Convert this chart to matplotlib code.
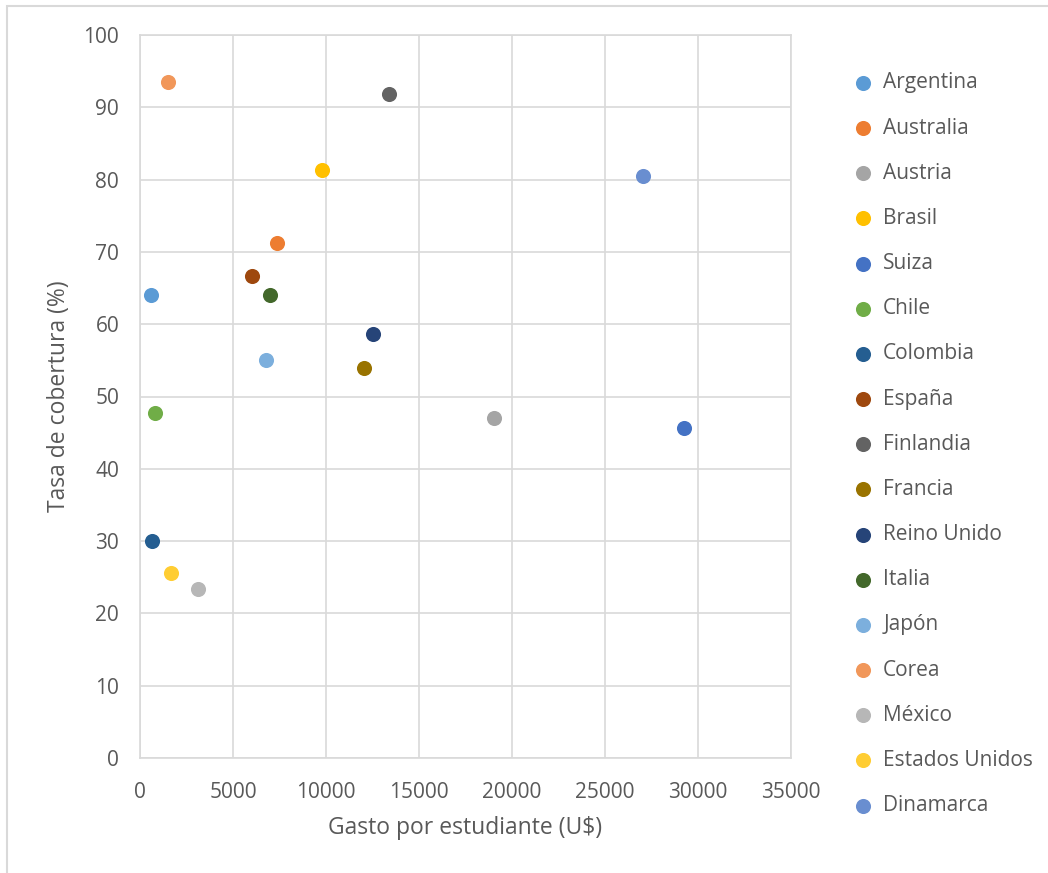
import matplotlib
matplotlib.use("Agg")
import matplotlib.pyplot as plt
from matplotlib.patches import Rectangle


# ── Data ──────────────────────────────────────────────────────────────────────

countries = ["Argentina", "Australia", "Austria", "Brasil", "Suiza", "Chile",
             "Colombia", "España", "Finlandia", "Francia", "Reino Unido",
             "Italia", "Japón", "Corea", "México", "Estados Unidos", "Dinamarca"]

gasto = [590, 7370, 19030, 9790, 29250, 810,
         650, 6020, 13390, 12040, 12530,
         6990, 6770, 1500, 3120, 1670, 27040]

cobertura = [64.0, 71.2, 47.0, 81.3, 45.7, 47.7,
             30.0, 66.7, 91.8, 53.9, 58.7,
             64.0, 55.0, 93.5, 23.4, 25.6, 80.5]

colors = ["#5B9BD5", "#ED7D31", "#A5A5A5", "#FFC000", "#4472C4", "#70AD47",
          "#255E91", "#9E480E", "#636363", "#997300", "#264478",
          "#43682B", "#7CAFDD", "#F1975A", "#B7B7B7", "#FFCD33", "#698ED0"]

x_ticks = list(range(0, 35001, 5000))
y_ticks = list(range(0, 101, 10))


# ── Style ─────────────────────────────────────────────────────────────────────

TEXT  = "#595959"
GRID  = "#D9D9D9"
FSIZE = 15
LSIZE = 16.5

plt.rcParams["font.family"] = ["Open Sans", "DejaVu Sans"]


# ── Plot ──────────────────────────────────────────────────────────────────────

fig = plt.figure(figsize=(10.48, 8.73), dpi=100)
fig.patches.append(Rectangle((7 / 1048, -0.1), 1.2, (873 - 6) / 873 + 0.1,
                             transform=fig.transFigure, fill=False,
                             edgecolor=GRID, linewidth=1.5))

ax = fig.add_axes([140 / 1048, 115 / 873, 651 / 1048, 723 / 873])

for name, xv, yv, c in zip(countries, gasto, cobertura, colors):
    ax.scatter([xv], [yv], s=118, color=c, label=name, zorder=3, linewidths=0)

ax.set_xlim(0, 35000)
ax.set_ylim(0, 100)
ax.set_xticks(x_ticks)
ax.set_yticks(y_ticks)
ax.grid(True, color=GRID, linewidth=1.2)
ax.set_axisbelow(True)
ax.tick_params(length=0, labelsize=FSIZE, colors=TEXT)
ax.tick_params(axis="x", pad=17)
ax.tick_params(axis="y", pad=15)
for sp in ax.spines.values():
    sp.set_color(GRID)
    sp.set_linewidth(1.2)

ax.set_xlabel("Gasto por estudiante (U$)", fontsize=LSIZE, color=TEXT, labelpad=10)
ax.set_ylabel("Tasa de cobertura (%)", fontsize=LSIZE, color=TEXT, labelpad=9)

leg = ax.legend(loc="upper left", bbox_to_anchor=(842 / 1048, (873 - 64) / 873),
                bbox_transform=fig.transFigure, frameon=False,
                fontsize=FSIZE, labelspacing=1.16, handletextpad=0.38,
                borderaxespad=0, handlelength=1.2)
for t in leg.get_texts():
    t.set_color(TEXT)

fig.savefig("out.png", dpi=100)
